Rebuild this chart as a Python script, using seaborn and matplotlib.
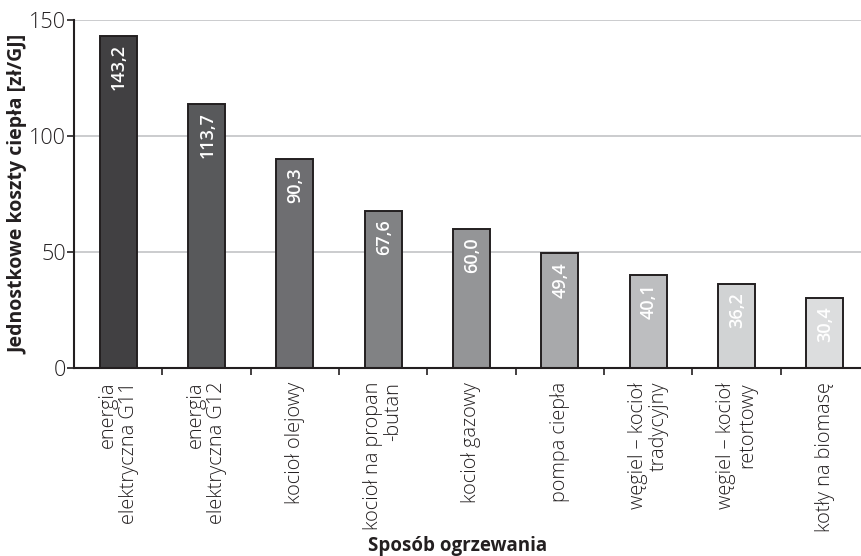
import matplotlib
matplotlib.use("Agg")
import matplotlib.pyplot as plt
import seaborn as sns
import pandas as pd
import numpy as np
from matplotlib.ticker import FixedLocator

categories = [
    "energia\nelektryczna G11",
    "energia\nelektryczna G12",
    "kocioł olejowy",
    "kocioł na propan\n-butan",
    "kocioł gazowy",
    "pompa ciepła",
    "węgiel – kocioł\ntradycyjny",
    "węgiel – kocioł\nretortowy",
    "kotły na biomasę",
]
values = [143.2, 113.7, 90.3, 67.6, 60.0, 49.4, 40.1, 36.2, 30.4]
value_labels = ["143,2", "113,7", "90,3", "67,6", "60,0", "49,4", "40,1", "36,2", "30,4"]
bar_colors = ["#414042", "#58595b", "#6d6e71", "#808285", "#939598",
              "#a7a9ac", "#bcbec0", "#d1d3d4", "#dcddde"]
y_ticks = [0, 50, 100, 150]

sns.set_theme(style="white")
plt.rcParams["font.family"] = ["Open Sans", "DejaVu Sans"]

ink = "#231f20"
df = pd.DataFrame({"sposob": categories, "koszt": values})

fig = plt.figure(figsize=(8.61, 5.56), dpi=100)
ax = fig.add_axes([0.086, 0.338, 0.914, 0.626])

sns.barplot(data=df, x="sposob", y="koszt", hue="sposob", palette=bar_colors,
            order=categories, hue_order=categories, legend=False,
            width=0.42, edgecolor=ink, linewidth=1.4, ax=ax, zorder=3)

ax.set_ylim(0, 150)
ax.set_xlim(-0.5, 8.41)
ax.set_yticks(y_ticks)
ax.set_yticklabels([str(t) for t in y_ticks], fontsize=15.5, color=ink,
                   fontweight=300)
ax.yaxis.grid(True, color="#c7c8ca", linewidth=1.3, zorder=0)
ax.xaxis.grid(False)

# category labels without tick marks; short tick marks between categories
ax.set_xticks(range(len(categories)))
ax.set_xticklabels(categories, rotation=90, ha="center", va="top",
                   multialignment="right", fontsize=14.3, color=ink,
                   fontweight=300, linespacing=1.05)
ax.xaxis.set_minor_locator(FixedLocator(np.arange(0.5, len(categories) - 1, 1.0)))
ax.tick_params(axis="x", which="major", length=0, pad=10)
ax.tick_params(axis="x", which="minor", length=5, width=1.2, color=ink,
               direction="out", bottom=True)
ax.tick_params(axis="y", which="major", length=5, width=1.2, color=ink,
               direction="out", left=True, pad=1)

for side in ("top", "right"):
    ax.spines[side].set_visible(False)
for side in ("left", "bottom"):
    ax.spines[side].set_color(ink)
    ax.spines[side].set_linewidth(1.5)
    ax.spines[side].set_zorder(4)

for i, (v, lab) in enumerate(zip(values, value_labels)):
    ax.annotate(lab, xy=(i, v), xytext=(0.5, -6), textcoords="offset points",
                rotation=90, ha="center", va="top", color="white",
                fontsize=13, fontweight="semibold", zorder=5)

ax.set_xlabel("Sposób ogrzewania", fontsize=13.5, fontweight="bold", color=ink)
ax.xaxis.label.set_va("center")
ax.xaxis.set_label_coords(0.487, -0.512)
ax.set_ylabel("Jednostkowe koszty ciepła [zł/GJ]", fontsize=14,
              fontweight="bold", color=ink)
ax.yaxis.label.set_va("center")
ax.yaxis.set_label_coords(-0.071, 0.5)

fig.savefig("out.png", dpi=100)
